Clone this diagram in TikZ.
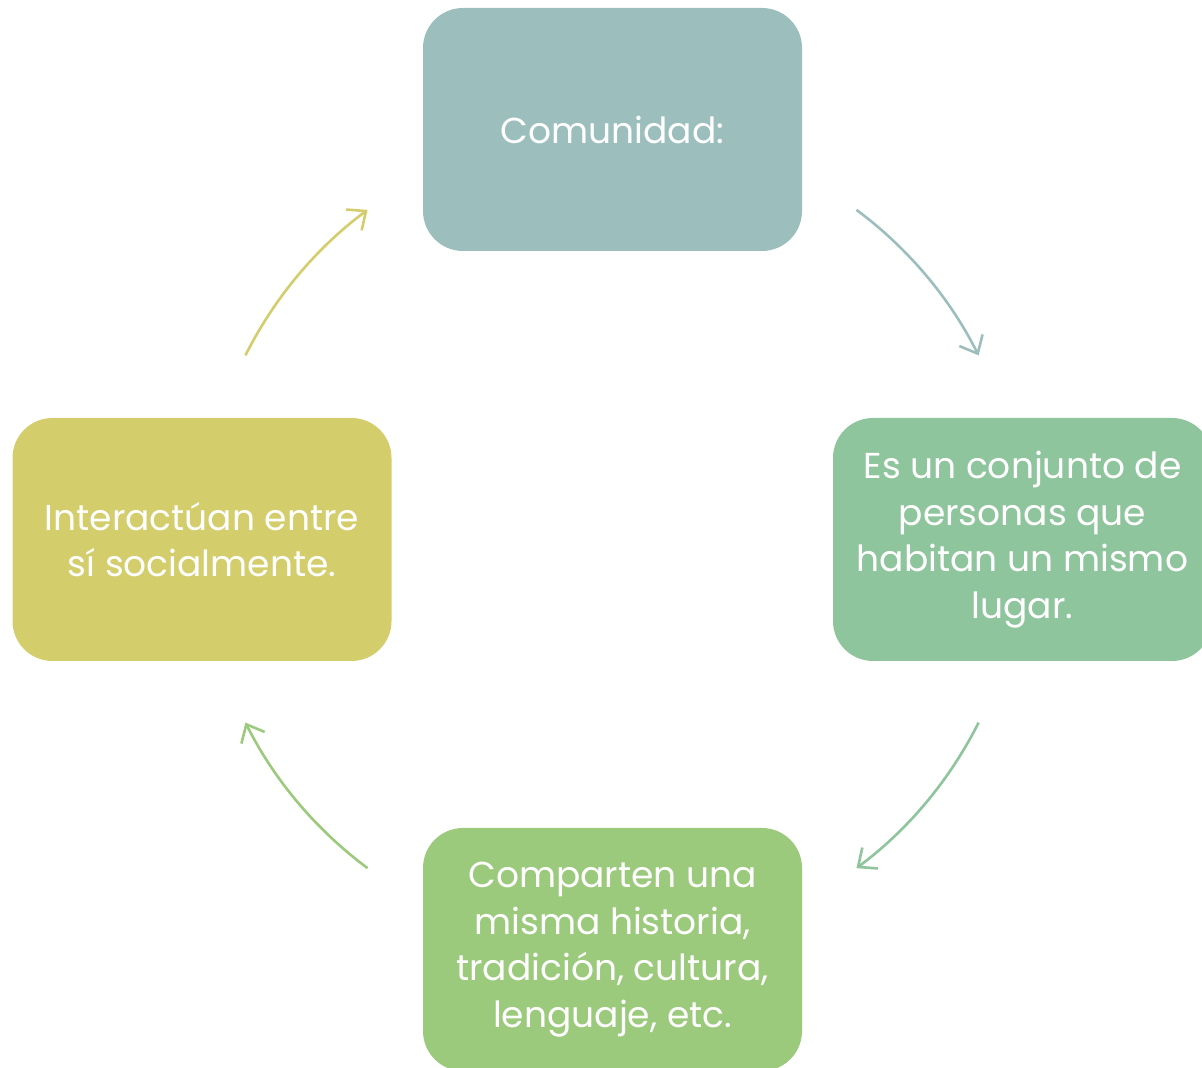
\documentclass[tikz,border=0pt]{standalone}
\usepackage{fontspec}
\setmainfont{Poppins}
\usetikzlibrary{arrows.meta}
\definecolor{tealbox}{HTML}{9CBFBD}
\definecolor{greenbox}{HTML}{8EC59C}
\definecolor{leafbox}{HTML}{9CCA7C}
\definecolor{olivebox}{HTML}{D3CD6C}
\begin{document}
\begin{tikzpicture}[x=1pt,y=1pt,>={Straight Barb[length=15pt,width=26pt]},
  box/.style={rounded corners=40pt,fill=#1,minimum width=379pt,minimum height=243pt,
    align=center,text=white,font=\fontsize{36}{46.5}\selectfont,inner sep=0pt},
  flow/.style={->,line width=2.6pt,draw=#1}]

\useasboundingbox (0,0) rectangle (1202,1068);

\node [box=tealbox] (comunidad) at (612.5,938.5) {Comunidad:};
\node [box=greenbox] (conjunto) at (1022.5,528.5) {Es un conjunto de\\personas que\\habitan un mismo\\lugar.};
\node [box=leafbox] (historia) at (612.5,118.5) {Comparten una\\misma historia,\\tradición, cultura,\\lenguaje, etc.};
\node [box=olivebox] (interactuan) at (202,528.5) {Interactúan entre\\sí socialmente.};

\coordinate (ctr) at (612,529);
\coordinate (a1) at ([shift={(53.4:410)}]ctr);
\coordinate (a2) at ([shift={(-26.6:410)}]ctr);
\coordinate (a3) at ([shift={(-126.6:410)}]ctr);
\coordinate (a4) at ([shift={(153.4:410)}]ctr);

\draw [flow=tealbox] (a1) arc[start angle=53.4,end angle=26.6,radius=410];
\draw [flow=greenbox] (a2) arc[start angle=-26.6,end angle=-53.4,radius=410];
\draw [flow=leafbox] (a3) arc[start angle=-126.6,end angle=-153.4,radius=410];
\draw [flow=olivebox] (a4) arc[start angle=153.4,end angle=126.6,radius=410];

\end{tikzpicture}
\end{document}
